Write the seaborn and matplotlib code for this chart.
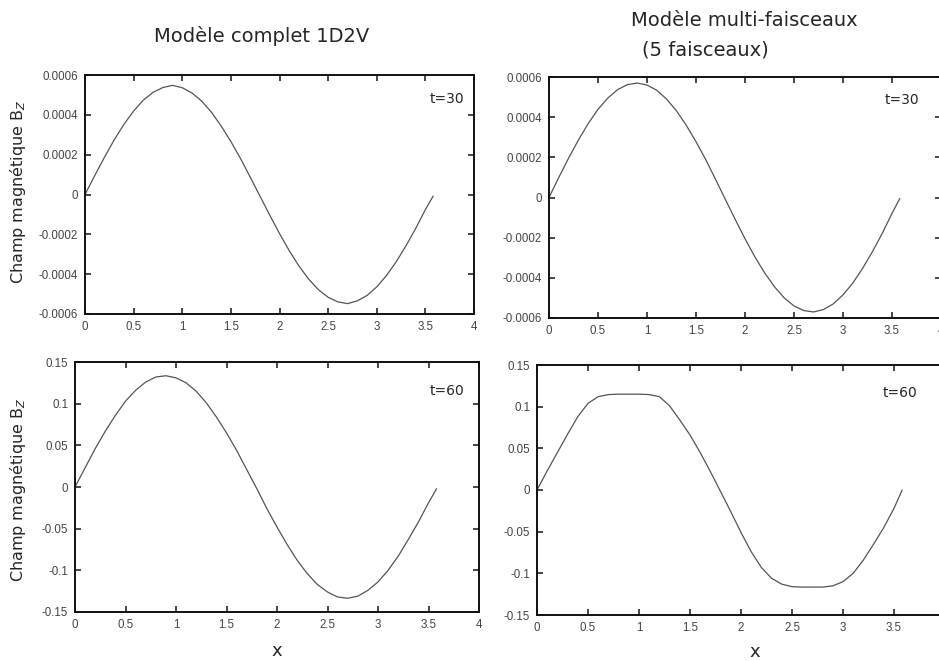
import matplotlib
matplotlib.use("Agg")
import matplotlib.pyplot as plt
import seaborn as sns
import pandas as pd
from matplotlib.ticker import FuncFormatter

# x positions (every 0.1, last point at the curve end)
x_pts = [0.0, 0.1, 0.2, 0.3, 0.4, 0.5, 0.6, 0.7, 0.8, 0.9, 1.0, 1.1, 1.2,
         1.3, 1.4, 1.5, 1.6, 1.7, 1.8, 1.9, 2.0, 2.1, 2.2, 2.3, 2.4, 2.5,
         2.6, 2.7, 2.8, 2.9, 3.0, 3.1, 3.2, 3.3, 3.4, 3.5, 3.58]

# Modele complet 1D2V, t=30
bz_complet_30 = [0.0, 0.000095, 0.000187, 0.000274, 0.000352, 0.000419,
                 0.000474, 0.000513, 0.000537, 0.000548, 0.000536, 0.000510,
                 0.000469, 0.000413, 0.000344, 0.000266, 0.000180, 0.000086,
                 -0.000009, -0.000104, -0.000196, -0.000282, -0.000359,
                 -0.000425, -0.000478, -0.000516, -0.000539, -0.000548,
                 -0.000534, -0.000507, -0.000464, -0.000407, -0.000338,
                 -0.000258, -0.000171, -0.000076, -0.000008]

# Modele multi-faisceaux, t=30
bz_multi_30 = [0.0, 0.000100, 0.000196, 0.000286, 0.000368, 0.000439,
               0.000495, 0.000537, 0.000562, 0.000570, 0.000560, 0.000534,
               0.000490, 0.000432, 0.000360, 0.000278, 0.000188, 0.000090,
               -0.000010, -0.000109, -0.000205, -0.000295, -0.000375,
               -0.000444, -0.000500, -0.000540, -0.000563, -0.000570,
               -0.000558, -0.000530, -0.000485, -0.000426, -0.000353,
               -0.000270, -0.000179, -0.000079, -0.000005]

# Modele complet 1D2V, t=60
bz_complet_60 = [0.0, 0.023, 0.046, 0.067, 0.086, 0.103, 0.116, 0.126, 0.132,
                 0.1335, 0.131, 0.125, 0.115, 0.101, 0.084, 0.065, 0.044,
                 0.021, -0.002, -0.026, -0.048, -0.069, -0.088, -0.104,
                 -0.117, -0.126, -0.132, -0.1335, -0.131, -0.124, -0.114,
                 -0.100, -0.083, -0.063, -0.042, -0.019, -0.002]

# Modele multi-faisceaux, t=60 (flat top / bottom)
bz_multi_60 = [0.0, 0.023, 0.045, 0.067, 0.088, 0.104, 0.112, 0.1145, 0.115,
               0.115, 0.115, 0.1145, 0.112, 0.101, 0.084, 0.066, 0.045, 0.022,
               -0.002, -0.026, -0.051, -0.074, -0.093, -0.106, -0.113, -0.116,
               -0.1165, -0.1165, -0.1165, -0.115, -0.110, -0.100, -0.084,
               -0.065, -0.045, -0.022, 0.0]

x_ticks = [0, 0.5, 1, 1.5, 2, 2.5, 3, 3.5, 4]
y_ticks_30 = [-0.0006, -0.0004, -0.0002, 0, 0.0002, 0.0004, 0.0006]
y_ticks_60 = [-0.15, -0.1, -0.05, 0, 0.05, 0.1, 0.15]

title_left = "Modèle complet 1D2V"
title_right_1 = "Modèle multi-faisceaux"
title_right_2 = "(5 faisceaux)"
ylabel = "Champ magnétique B$_Z$"

sns.set_style("ticks")
plt.rcParams["font.family"] = ["DejaVu Sans"]

W, H = 939, 661
fig = plt.figure(figsize=(W / 100, H / 100), dpi=100)


def make_ax(left, top, right, bottom):
    return fig.add_axes([left / W, 1 - bottom / H, (right - left) / W, (bottom - top) / H])


panels = [
    (make_ax(85, 75, 474, 314), bz_complet_30, y_ticks_30, "t=30", (0.887, 0.90)),
    (make_ax(549, 77, 941, 318), bz_multi_30, y_ticks_30, "t=30", (0.857, 0.905)),
    (make_ax(75, 362, 479, 612), bz_complet_60, y_ticks_60, "t=60", (0.879, 0.884)),
    (make_ax(537, 365, 945, 615), bz_multi_60, y_ticks_60, "t=60", (0.846, 0.888)),
]

for ax, yvals, yt, label, pos in panels:
    df = pd.DataFrame({"x": x_pts, "bz": yvals})
    sns.lineplot(data=df, x="x", y="bz", ax=ax, color="#555555", linewidth=0.9)
    ax.set_xlim(0, 4)
    ax.set_ylim(yt[0], yt[-1])
    ax.set_xticks(x_ticks)
    ax.set_yticks(yt)
    ax.xaxis.set_major_formatter(FuncFormatter(lambda v, p: "%g" % v))
    ax.yaxis.set_major_formatter(FuncFormatter(lambda v, p: "%g" % v))
    ax.tick_params(direction="in", length=4, width=1.2, top=True, right=True,
                   labelsize=8.3, labelcolor="#444444", pad=5)
    for lab in ax.get_xticklabels() + ax.get_yticklabels():
        lab.set_family("Liberation Sans")
    for sp in ax.spines.values():
        sp.set_linewidth(1.4)
        sp.set_color("#111111")
    ax.set_xlabel("")
    ax.set_ylabel("")
    ax.text(pos[0], pos[1], label, transform=ax.transAxes, fontsize=10,
            ha="left", va="center")

fig.text(262 / W, 1 - 36 / H, title_left, fontsize=14, ha="center", va="center")
fig.text(744 / W, 1 - 21 / H, title_right_1, fontsize=14, ha="center", va="center")
fig.text(705 / W, 1 - 50 / H, title_right_2, fontsize=14, ha="center", va="center")

fig.text(18 / W, 1 - 192 / H, ylabel, fontsize=11.5, rotation=90, ha="center", va="center")
fig.text(18 / W, 1 - 490 / H, ylabel, fontsize=11.5, rotation=90, ha="center", va="center")

fig.text(277 / W, 1 - 651 / H, "x", fontsize=13, ha="center", va="center")
fig.text(755 / W, 1 - 652 / H, "x", fontsize=13, ha="center", va="center")

fig.savefig("out.png", dpi=100)
